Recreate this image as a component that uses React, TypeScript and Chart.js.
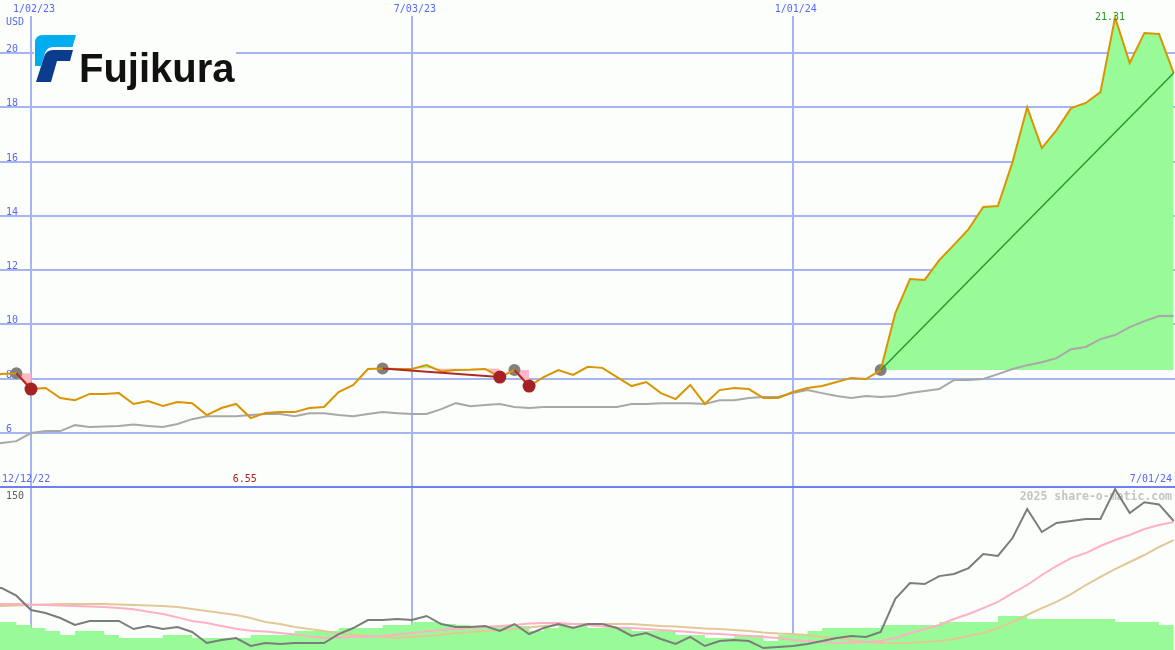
import React, { useEffect, useRef } from 'react';
import { Chart, registerables } from 'chart.js';

Chart.register(...registerables);

// ---- data (weekly, week index relative to the 1/02/23 week) ----
const FIRST_WEEK = -3;
const RANGE_START = '12/12/22';
const RANGE_END = '7/01/24';
const CURRENCY = 'USD';
const dateTicks = [0, 26, 52];
const dateTickLabels = ['1/02/23', '7/03/23', '1/01/24'];
const priceTicks = [6, 8, 10, 12, 14, 16, 18, 20];
const lowerTicks = [150, 0];

const price = [
  8.15, 8.17, 8.20, 7.62, 7.66, 7.29, 7.21, 7.44, 7.44, 7.47,
  7.07, 7.18, 7.00, 7.14, 7.10, 6.66, 6.92, 7.07, 6.55, 6.74,
  6.77, 6.77, 6.92, 6.96, 7.51, 7.77, 8.36, 8.38, 8.36, 8.36,
  8.50, 8.27, 8.32, 8.33, 8.36, 8.06, 8.32, 7.73, 8.06, 8.32,
  8.14, 8.44, 8.40, 8.06, 7.73, 7.88, 7.47, 7.25, 7.77, 7.07,
  7.58, 7.66, 7.62, 7.29, 7.29, 7.51, 7.66, 7.73, 7.88, 8.03,
  7.99, 8.32, 10.42, 11.67, 11.64, 12.37, 12.93, 13.51, 14.33, 14.36,
  15.98, 18.00, 16.50, 17.16, 17.97, 18.16, 18.56, 21.31, 19.63, 20.74,
  20.70, 19.26,
];

const priceAvg = [
  5.55, 5.63, 5.70, 6.00, 6.07, 6.07, 6.29, 6.22, 6.24, 6.26,
  6.31, 6.26, 6.22, 6.33, 6.51, 6.62, 6.62, 6.62, 6.66, 6.70,
  6.70, 6.62, 6.73, 6.73, 6.66, 6.62, 6.70, 6.77, 6.73, 6.70,
  6.70, 6.88, 7.10, 6.99, 7.03, 7.07, 6.96, 6.92, 6.96, 6.96,
  6.96, 6.96, 6.96, 6.96, 7.07, 7.07, 7.10, 7.10, 7.10, 7.07,
  7.21, 7.21, 7.29, 7.33, 7.33, 7.47, 7.58, 7.47, 7.36, 7.29,
  7.36, 7.33, 7.36, 7.47, 7.55, 7.62, 7.95, 7.95, 7.99, 8.17,
  8.36, 8.50, 8.61, 8.76, 9.09, 9.17, 9.46, 9.61, 9.90, 10.12,
  10.31, 10.31,
];

const tradeEntryWeeks = [-1, 24, 33, 58];
const tradeExitWeeks = [0, 32, 34, 78];
const tradeClosed = [true, true, true, false];

const lowerLine = [
  57, 57, 50, 36.8, 34, 29.4, 23, 26.7, 26.7, 26.7,
  19.3, 22, 19.3, 21.2, 16.6, 6.4, 9.2, 11, 3.7, 6.4,
  5.5, 6.4, 6.4, 6.4, 14.7, 20.2, 27.6, 27.6, 28.5, 27.6,
  31.3, 23.9, 21.2, 21.2, 22, 17.5, 23.9, 14.7, 20.2, 23.9,
  20.2, 23.9, 23.9, 20.2, 12.9, 15.6, 10.1, 5.5, 12, 3.7,
  8.3, 9.2, 8.3, 1.8, 2.8, 3.7, 5.5, 8.3, 11, 12.9,
  12, 16.6, 47, 61.7, 60.7, 68, 70, 75.4, 88.3, 86.5,
  103, 129.7, 108.6, 116.9, 118.7, 120.6, 120.6, 148, 126, 136,
  134, 118.7,
];

const lowerPink = [
  42.3, 42.3, 42.3, 41.9, 41.4, 40.9, 40.5, 40, 39.6, 38.6,
  37.5, 35.2, 33.1, 30, 26.7, 24.8, 22.1, 19.6, 17.8, 17,
  15.6, 14.2, 12.4, 11, 11.5, 12, 12, 12.9, 14.2, 15.6,
  17, 18.4, 19.3, 20.2, 21.2, 22, 23, 24.4, 24.8, 24.8,
  23.9, 23, 21.6, 20.7, 20.2, 19.3, 18.4, 17.5, 16.6, 15.2,
  14.7, 13.8, 12.9, 12, 11, 9.2, 8.3, 7.4, 6.4, 6.9,
  7.4, 8.3, 11, 15.6, 19.3, 23, 28.5, 33.1, 38.6, 44.2,
  52.4, 59.8, 69, 77.3, 84.6, 89.2, 95.7, 101.2, 105.8, 111.3,
  115, 117.8,
];

const lowerTan = [
  40.5, 40.5, 40.9, 41.4, 41.9, 42.3, 42.3, 42.3, 42.3, 41.9,
  41.4, 40.9, 40.5, 39.6, 37.7, 35.9, 34, 32.2, 29.4, 25.8,
  23.9, 21.2, 19.3, 17.5, 15.2, 13.8, 12.9, 12, 11, 12,
  12.9, 13.8, 15.6, 16.6, 17.5, 18.4, 19.3, 20.7, 22.1, 23,
  23.9, 23.9, 23.9, 23.9, 23.9, 23, 22.1, 21.6, 20.7, 19.8,
  19.3, 18.4, 17.5, 16.1, 15.2, 14.7, 13.8, 12, 11, 9.2,
  7.4, 6.4, 6.4, 6.4, 7.4, 8.3, 10.1, 12.9, 15.6, 20.2,
  25.8, 32.2, 38.6, 44.2, 51.5, 59.8, 67.2, 74.5, 81, 87.4,
  94.8, 101.2,
];

const volume = [
  25.8, 25.8, 23, 20.2, 17.5, 13.8, 17.5, 17.5, 13.8, 11,
  11, 11, 13.8, 13.8, 11, 11, 11, 11, 13.8, 13.8,
  13.8, 17.5, 17.5, 17.5, 20.2, 20.2, 20.2, 23, 23, 25.8,
  25.8, 24, 23, 22, 22, 22, 22, 17.5, 20.2, 22,
  22, 20.2, 20.2, 20.2, 17.5, 17.5, 17.5, 13.8, 13.8, 11,
  11, 13.8, 13.8, 8.3, 13.8, 14.7, 17.5, 20.2, 20.2, 20.2,
  20.2, 23, 23, 23, 23, 25.8, 25.8, 25.8, 25.8, 31.3,
  31.3, 28.5, 28.5, 28.5, 28.5, 28.5, 28.5, 25.8, 25.8, 25.8,
  23, 23,
];

// ---- styling ----
const W = 1175;
const TOP_H = 488;
const BOT_H = 162;
const X_MIN = -2.116;
const X_MAX = 78.09;
const TOP_Y_MIN = 3.974;
const TOP_Y_MAX = 21.953;
const BOT_Y_MAX = 149.08;

const BG = '#FBFEFB';
const GRID = '#A6B4F2';
const SEP = '#6E80F0';
const LABEL_BLUE = '#5868F0';
const FONT = '10px "DejaVu Sans Mono", monospace';

const weeks = price.map((_, i) => FIRST_WEEK + i);
const idxOf = (w: number) => w - FIRST_WEEK;
const toPts = (arr: number[]) => arr.map((v, i) => ({ x: weeks[i], y: v }));

const topDecor = {
  id: 'topDecor',
  beforeDraw(chart: any) {
    const { ctx } = chart;
    ctx.save();
    ctx.fillStyle = BG;
    ctx.fillRect(0, 0, chart.width, chart.height);
    ctx.restore();
  },
  beforeDatasetsDraw(chart: any) {
    const { ctx, scales } = chart;
    const xs = scales.x, ys = scales.y;
    ctx.save();
    ctx.fillStyle = GRID;
    priceTicks.forEach((t) => {
      const y = Math.round(ys.getPixelForValue(t));
      ctx.fillRect(0, y - 1, chart.width, 2);
    });
    dateTicks.forEach((d) => {
      const x = Math.round(xs.getPixelForValue(d));
      ctx.fillRect(x - 1, 16, 2, chart.height - 16);
    });
    ctx.font = FONT;
    ctx.fillStyle = LABEL_BLUE;
    ctx.textAlign = 'left';
    ctx.textBaseline = 'alphabetic';
    priceTicks.forEach((t) => {
      const y = Math.round(ys.getPixelForValue(t));
      ctx.fillText(String(t), 6, y - 1);
    });
    ctx.fillText(CURRENCY, 6, 25);
    ctx.restore();
  },
  afterDatasetsDraw(chart: any) {
    const { ctx, scales } = chart;
    const xs = scales.x, ys = scales.y;
    ctx.save();
    ctx.font = FONT;
    ctx.fillStyle = LABEL_BLUE;
    ctx.textBaseline = 'middle';
    ctx.textAlign = 'center';
    dateTicks.forEach((d, i) => {
      ctx.fillText(dateTickLabels[i], xs.getPixelForValue(d) + 3, 9);
    });
    // separator
    ctx.fillStyle = SEP;
    ctx.fillRect(0, chart.height - 2, chart.width, 2);
    // range labels
    ctx.fillStyle = LABEL_BLUE;
    ctx.textAlign = 'left';
    ctx.fillText(RANGE_START, 2, 479);
    ctx.textAlign = 'right';
    ctx.fillText(RANGE_END, 1172, 479);
    // low / high labels
    let lo = 0, hi = 0;
    price.forEach((v, i) => {
      if (v < price[lo]) lo = i;
      if (v > price[hi]) hi = i;
    });
    ctx.textAlign = 'center';
    ctx.fillStyle = '#A82222';
    ctx.fillText(price[lo].toFixed(2), xs.getPixelForValue(weeks[lo]) - 6, 479);
    ctx.fillStyle = '#229922';
    ctx.fillText(price[hi].toFixed(2), xs.getPixelForValue(weeks[hi]) - 5, ys.getPixelForValue(price[hi]));
    ctx.restore();
  },
};

const bottomDecor = {
  id: 'bottomDecor',
  beforeDraw(chart: any) {
    const { ctx } = chart;
    ctx.save();
    ctx.fillStyle = BG;
    ctx.fillRect(0, 0, chart.width, chart.height);
    ctx.restore();
  },
  beforeDatasetsDraw(chart: any) {
    const { ctx, scales } = chart;
    const xs = scales.x, ys = scales.y;
    ctx.save();
    ctx.fillStyle = GRID;
    dateTicks.forEach((d) => {
      const x = Math.round(xs.getPixelForValue(d));
      ctx.fillRect(x - 1, 0, 2, chart.height);
    });
    ctx.font = FONT;
    ctx.fillStyle = '#606060';
    ctx.textAlign = 'left';
    ctx.textBaseline = 'middle';
    ctx.fillText(String(lowerTicks[0]), 6, ys.getPixelForValue(lowerTicks[0]) + 9);
    ctx.fillText(String(lowerTicks[1]), 6, ys.getPixelForValue(lowerTicks[1]) - 8);
    ctx.font = 'bold 11.5px "DejaVu Sans Mono", monospace';
    ctx.fillStyle = '#C4C4C4';
    ctx.textAlign = 'right';
    ctx.fillText('2025 share-o-matic.com', 1172, 9);
    ctx.restore();
  },
};

function buildTopDatasets() {
  const ds: any[] = [];
  const priceAt = (w: number) => price[idxOf(w)];
  ds.push({
    type: 'scatter',
    data: tradeExitWeeks.filter((_, i) => tradeClosed[i]).map((w) => ({ x: w, y: priceAt(w) })),
    pointRadius: 6.5,
    pointHoverRadius: 0,
    pointBackgroundColor: '#A52222',
    pointBorderWidth: 0,
    order: 0,
  });
  tradeEntryWeeks.forEach((e, i) => {
    const x = tradeExitWeeks[i];
    ds.push({
      type: 'line',
      data: [{ x: e, y: priceAt(e) }, { x, y: priceAt(x) }],
      borderColor: tradeClosed[i] ? '#B02828' : '#2A9A2A',
      borderWidth: tradeClosed[i] ? 2 : 1.5,
      pointRadius: 0,
      fill: false,
      order: 1,
    });
  });
  ds.push({
    type: 'line',
    data: toPts(price),
    borderColor: '#D99400',
    borderWidth: 2,
    pointRadius: 0,
    fill: false,
    order: 2,
  });
  ds.push({
    type: 'scatter',
    data: tradeEntryWeeks.map((w) => ({ x: w, y: priceAt(w) })),
    pointRadius: 6,
    pointHoverRadius: 0,
    pointBackgroundColor: '#808080',
    pointBorderWidth: 0,
    order: 3,
  });
  ds.push({
    type: 'line',
    data: toPts(priceAvg),
    borderColor: '#A8A8A8',
    borderWidth: 2,
    pointRadius: 0,
    fill: false,
    order: 4,
  });
  tradeEntryWeeks.forEach((e, i) => {
    const x = tradeExitWeeks[i];
    const seg = [];
    for (let w = e; w <= x; w++) seg.push({ x: w, y: priceAt(w) });
    ds.push({
      type: 'line',
      data: seg,
      borderWidth: 0,
      borderColor: 'rgba(0,0,0,0)',
      pointRadius: 0,
      fill: { target: { value: priceAt(e) }, above: '#98FB98', below: '#FFB6C8' },
      order: 5,
    });
  });
  return ds;
}

function buildBottomDatasets() {
  return [
    { type: 'line', data: toPts(lowerLine), borderColor: '#7C7C7C', borderWidth: 2, pointRadius: 0, fill: false, order: 0 },
    { type: 'line', data: toPts(lowerPink), borderColor: '#FFB0C4', borderWidth: 2, pointRadius: 0, fill: false, order: 1 },
    { type: 'line', data: toPts(lowerTan), borderColor: '#E2C898', borderWidth: 2, pointRadius: 0, fill: false, order: 2 },
    {
      type: 'line',
      data: toPts(volume),
      borderWidth: 0,
      borderColor: 'rgba(0,0,0,0)',
      backgroundColor: '#98FB98',
      stepped: true,
      pointRadius: 0,
      fill: 'origin',
      order: 3,
    },
  ];
}

function baseOptions(yMin: number, yMax: number) {
  return {
    responsive: false,
    maintainAspectRatio: false,
    animation: false as const,
    events: [],
    layout: { padding: 0, autoPadding: false },
    plugins: { legend: { display: false }, tooltip: { enabled: false } },
    scales: {
      x: { type: 'linear' as const, min: X_MIN, max: X_MAX, display: false },
      y: { type: 'linear' as const, min: yMin, max: yMax, display: false },
    },
  };
}

export default function App() {
  const topRef = useRef<HTMLCanvasElement | null>(null);
  const botRef = useRef<HTMLCanvasElement | null>(null);

  useEffect(() => {
    document.body.style.margin = '0';
    document.body.style.background = BG;
    const top = new Chart(topRef.current as HTMLCanvasElement, {
      type: 'line',
      data: { datasets: buildTopDatasets() },
      options: baseOptions(TOP_Y_MIN, TOP_Y_MAX) as any,
      plugins: [topDecor],
    });
    const bot = new Chart(botRef.current as HTMLCanvasElement, {
      type: 'line',
      data: { datasets: buildBottomDatasets() as any },
      options: baseOptions(0, BOT_Y_MAX) as any,
      plugins: [bottomDecor],
    });
    return () => {
      top.destroy();
      bot.destroy();
    };
  }, []);

  return (
    <div style={{ position: 'absolute', left: 0, top: 0, width: W, height: TOP_H + BOT_H, background: BG }}>
      <canvas ref={topRef} width={W} height={TOP_H} style={{ display: 'block', width: W, height: TOP_H }} />
      <canvas ref={botRef} width={W} height={BOT_H} style={{ display: 'block', width: W, height: BOT_H }} />
      <svg width={240} height={90} viewBox="0 0 240 90" style={{ position: 'absolute', left: 0, top: 0 }}>
        <rect x={34} y={31} width={202} height={57} fill={BG} />
        <path d="M43 35 H76 L72.5 47 H53 Q47 47 45 53 L41 66 H35 V43 Q35 35 43 35 Z" fill="#00AEEF" />
        <path d="M53 50 H73 L70 61 H57 L51 82 H36 L44 57 Q46 50 53 50 Z" fill="#0B3C8E" />
        <text x={79} y={82} fontFamily='"Liberation Sans", Arial, sans-serif' fontWeight="bold" fontSize={40} fill="#111111">
          Fujikura
        </text>
      </svg>
    </div>
  );
}
